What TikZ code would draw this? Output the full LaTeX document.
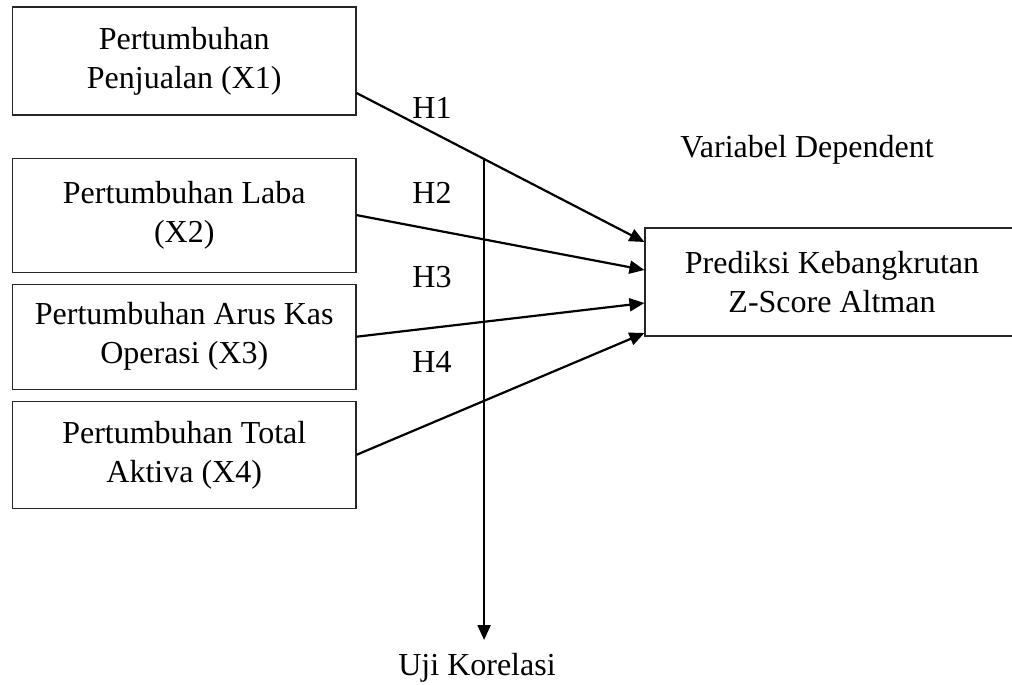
\documentclass[tikz,border=0pt]{standalone}
\usepackage{fontspec}
\setmainfont{Liberation Serif}
\usetikzlibrary{arrows.meta, positioning, calc}

\begin{document}
\begin{tikzpicture}[
  x=0.5pt, y=-0.5pt,
  >={Triangle[length=7.5pt, width=6.5pt]},
  varbox/.style={draw, black!85, line width=0.55pt, rectangle, minimum width=171.75pt, minimum height=54pt, inner sep=2pt, align=center, text=black, font=\fontsize{16}{19.5}\selectfont},
  depbox/.style={varbox, minimum width=187pt},
  lbl/.style={font=\fontsize{16}{19.5}\selectfont, inner sep=0pt},
  hyp/.style={->, line width=1.1pt}
]

% page size of the reference
\path[use as bounding box, clip] (0,0) rectangle (1012,685);

% independent variables
\node[varbox]  (X1) at (184.25,61) {Pertumbuhan\\Penjualan (X1)};
\node[varbox, minimum height=57pt] (X2) [below=21pt of X1] {Pertumbuhan Laba\\(X2)};
\node[varbox, minimum height=52.5pt] (X3) [below=5.5pt of X2] {Pertumbuhan Arus Kas\\Operasi (X3)};
\node[varbox, minimum height=53.5pt] (X4) [below=5.5pt of X3] {Pertumbuhan Total\\Aktiva (X4)};

% dependent variable
\node[depbox]  (Z) at (832,282) {Prediksi Kebangkrutan\\Z-Score Altman};
\node[lbl]     (dep) at (807,150) {Variabel Dependent};

% hypothesis labels
\node[lbl] (H1) at (432,108) {H1};
\node[lbl] (H2) at (432,193) {H2};
\node[lbl] (H3) at (432,277) {H3};
\node[lbl] (H4) at (432,362) {H4};

% Flows
\coordinate (X1out) at ([yshift=-16pt]X1.east);
\coordinate (Zin1)  at ([yshift=20pt]Z.west);
\draw[hyp] (X1out) -- (Zin1);
\draw[hyp] (X2.east) -- ([yshift=6pt]Z.west);
\draw[hyp] (X3.east) -- ([yshift=-10.5pt]Z.west);
\draw[hyp] (X4.east) -- ([yshift=-25.5pt]Z.west);

% correlation test
\coordinate (KorTop) at ($(X1out)!0.443!(Zin1)$);
\node[lbl]  (Uji) at (477,668) {Uji Korelasi};
\coordinate (KorTip) at (KorTop |- 0,640);
\draw[hyp] (KorTop) -- (KorTip);

\end{tikzpicture}
\end{document}
